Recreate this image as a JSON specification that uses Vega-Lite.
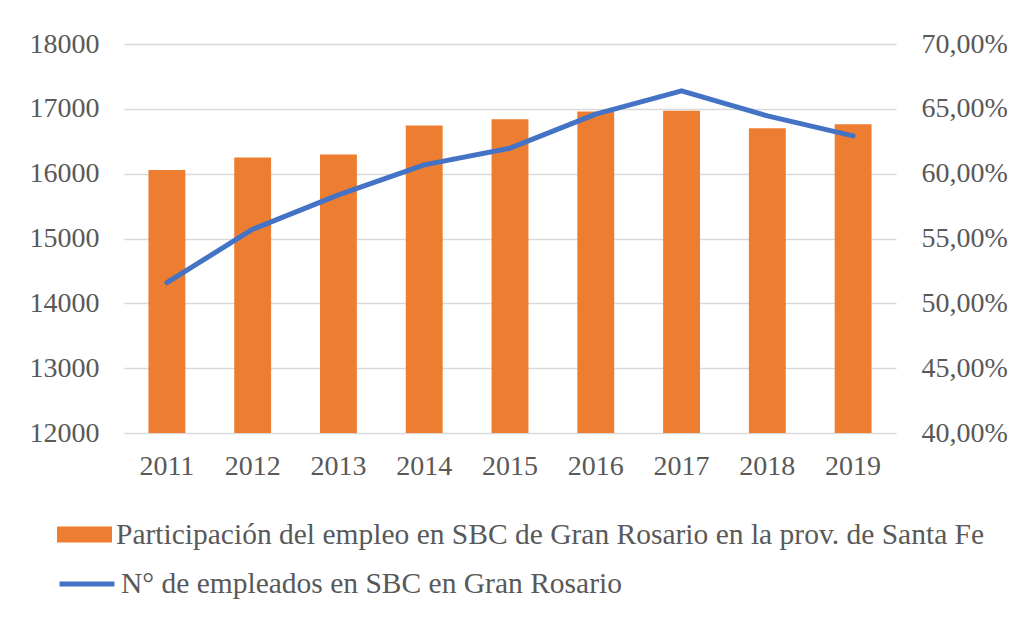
{
  "$schema": "https://vega.github.io/schema/vega-lite/v6.json",
  "width": 772,
  "height": 389,
  "autosize": {"type": "none"},
  "padding": {"left": 124, "top": 44, "right": 117, "bottom": 199},
  "background": "white",
  "config": {
    "view": {"stroke": null},
    "font": "Liberation Serif",
    "axis": {"labelFont": "Liberation Serif", "labelFontSize": 28, "labelColor": "#595959", "ticks": false, "domain": false, "title": null},
    "legend": {"labelFont": "Liberation Serif", "labelFontSize": 29.5, "labelColor": "#595959", "labelLimit": 2000, "padding": 0, "title": null}
  },
  "data": {
    "values": [
      {"year": "2011", "participacion": 60.29, "empleados": 14319},
      {"year": "2012", "participacion": 61.24, "empleados": 15143},
      {"year": "2013", "participacion": 61.48, "empleados": 15673},
      {"year": "2014", "participacion": 63.71, "empleados": 16136},
      {"year": "2015", "participacion": 64.2, "empleados": 16393},
      {"year": "2016", "participacion": 64.79, "empleados": 16918},
      {"year": "2017", "participacion": 64.85, "empleados": 17278},
      {"year": "2018", "participacion": 63.51, "empleados": 16892},
      {"year": "2019", "participacion": 63.82, "empleados": 16583}
    ]
  },
  "encoding": {
    "x": {
      "field": "year", "type": "nominal",
      "scale": {"paddingInner": 0.57, "paddingOuter": 0.285},
      "axis": {"labelAngle": 0, "labelPadding": 19, "grid": false}
    }
  },
  "layer": [
    {
      "mark": {"type": "bar"},
      "encoding": {
        "y": {
          "field": "participacion", "type": "quantitative",
          "scale": {"domain": [40, 70], "zero": false, "nice": false},
          "axis": {"orient": "right", "values": [40, 45, 50, 55, 60, 65, 70], "grid": false, "labelPadding": 25,
                   "labelExpr": "replace(format(datum.value, '.2f'), '.', ',') + '%'"}
        },
        "y2": {"datum": 40},
        "fill": {
          "datum": "Participación del empleo en SBC de Gran Rosario en la prov. de Santa Fe",
          "scale": {"range": ["#ED7D31"]},
          "legend": {"orient": "none", "legendX": -67, "legendY": 463, "symbolType": "M-1,-0.29L1,-0.29L1,0.29L-1,0.29Z", "symbolSize": 3025, "symbolStrokeWidth": 0, "labelOffset": 4}
        }
      }
    },
    {
      "mark": {"type": "line", "strokeWidth": 5, "strokeCap": "round", "strokeJoin": "round"},
      "encoding": {
        "y": {
          "field": "empleados", "type": "quantitative",
          "scale": {"domain": [12000, 18000], "zero": false, "nice": false},
          "axis": {"orient": "left", "values": [12000, 13000, 14000, 15000, 16000, 17000, 18000], "format": "d", "grid": true, "gridColor": "#D9D9D9", "gridWidth": 1.5, "labelPadding": 25}
        },
        "stroke": {
          "datum": "N° de empleados en SBC en Gran Rosario",
          "scale": {"range": ["#4472C4"]},
          "legend": {"orient": "none", "legendX": -67, "legendY": 510, "symbolType": "stroke", "symbolSize": 3025, "symbolStrokeWidth": 5, "labelOffset": 4}
        }
      }
    }
  ],
  "resolve": {"scale": {"y": "independent", "fill": "independent", "stroke": "independent"}}
}
